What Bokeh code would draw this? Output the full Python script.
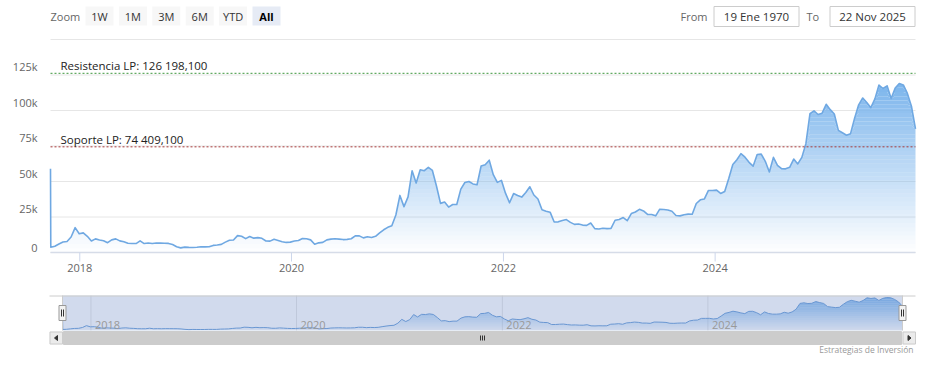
import numpy as np
import pandas as pd
from bokeh.plotting import figure
from bokeh.models import Range1d
from bokeh.core.properties import value
from bokeh.embed import file_html
from bokeh.resources import INLINE

# ---------------- data ----------------
spike_date = "2017-09-22"
spike_value = 59000
series_start = "2017-09-23"
series_step = "14D"

btc_2017 = [3700, 4400, 6000, 7400, 7800, 10900, 17500, 13200]
btc_2018 = [13800, 11400, 8100, 9600, 8800, 8300, 6900, 8900, 9600, 8200, 7600, 6500, 6300,
            6300, 8200, 6300, 6700, 6300, 6700, 6600, 6500, 6400, 5600, 4100, 3250, 3800]
btc_2019 = [3600, 3550, 3650, 4100, 3950, 4000, 5000, 5300, 5700, 7300, 8600, 8800, 11900,
            11400, 9800, 11300, 10100, 10500, 10000, 8100, 8000, 9300, 8500, 7600, 7100, 7300]
btc_2020 = [8100, 8400, 9900, 9700, 8900, 5800, 6800, 7100, 8900, 9400, 9700, 9450, 9100,
            9250, 9700, 11700, 11700, 10300, 11100, 10600, 11400, 13800, 16000, 17700, 18800, 26400]
btc_2021 = [40200, 32300, 39200, 57500, 48900, 58300, 57600, 60000, 57800, 46800, 34600, 35500, 32000,
            33800, 33800, 44600, 49300, 50000, 48300, 47700, 60900, 61800, 65000, 54800, 49400, 50800]
btc_2022 = [41800, 35000, 41500, 40100, 39000, 42200, 46300, 40500, 37700, 30100, 29000, 28400, 21500,
            21600, 22600, 23200, 21200, 19800, 20100, 19300, 19100, 20800, 16800, 16500, 17100, 16800]
btc_2023 = [17000, 22700, 23300, 24600, 22400, 27400, 28500, 30400, 29300, 26800, 26800, 25800, 30500,
            30300, 29900, 29100, 26100, 25800, 26600, 27000, 26900, 34500, 37100, 37700, 43700, 43700]
btc_2024 = [43900, 41600, 43000, 52100, 62000, 65300, 69600, 67100, 63500, 60800, 69000, 69300, 64200,
            56700, 67000, 61400, 59000, 58900, 60000, 65800, 62400, 67000, 76600, 97700, 99800, 97200]
btc_2025 = [98100, 104400, 100600, 97500, 86000, 84300, 82600, 83700, 94600, 104000, 108800, 105600,
            102000, 108200, 117900, 115500, 117400, 108400, 115900, 119000, 118000, 112000, 103000, 87000]
btc_values = btc_2017 + btc_2018 + btc_2019 + btc_2020 + btc_2021 + btc_2022 + btc_2023 + btc_2024 + btc_2025

support_value = 74409.1
resistance_value = 126198.1
support_label = "Soporte LP: 74 409,100"
resistance_label = "Resistencia LP: 126 198,100"

y_ticks = [0, 25000, 50000, 75000, 100000, 125000, 150000]
y_tick_labels = ["0", "25k", "50k", "75k", "100k", "125k", ""]
x_tick_years = [2018, 2020, 2022, 2024]

zoom_title = "Zoom"
zoom_buttons = ["1W", "1M", "3M", "6M", "YTD", "All"]
active_button = "All"
from_title, from_text = "From", "19 Ene 1970"
to_title, to_text = "To", "22 Nov 2025"
credits_text = "Estrategias de Inversión"

# ---------------- setup ----------------
FONT = "Open Sans"
LINE_COLOR = "#6fa8e2"
FILL_COLOR = "#7cb5ec"
M = 0                 # canvas offset on the page (Bokeh's page has no body margin)
W, H = 932, 364       # canvas size


def to_ms(d):
    return pd.Timestamp(d).value / 1e6


series_dates = pd.date_range(series_start, periods=len(btc_values), freq=series_step)
x_ms = np.array([to_ms(spike_date)] + [to_ms(d) for d in series_dates])
y_vals = np.array([spike_value] + btc_values, dtype=float)
year_ms = [to_ms(f"{yr}-01-01") for yr in x_tick_years]
top_val = y_vals.max()
S, E = x_ms[0], x_ms[-1]

# one canvas; the default ranges are page pixels, extra ranges carry the data scales
p = figure(width=W, height=H, output_backend="svg", toolbar_location=None,
           x_range=Range1d(M, M + W), y_range=Range1d(M + H, M),
           min_border=0, x_axis_location=None, y_axis_location=None)
p.grid.visible = False
p.outline_line_color = None

# main plot area (page px)
MX0, MX1 = 50, 915
MY0, PX_PER_25K = 252, 35.5
ppm = (MX1 - MX0) / (E - S)
ppv = PX_PER_25K / 25000
# navigator area (page px)
NX0, NX1 = 62, 902
NTOP, NBASE, NSER_TOP = 295, 330, 297
FR_L, FR_R = 49, 915
SC_TOP, SC_BOT = 331, 344
nppm = (NX1 - NX0) / (E - S)
nppv = (NBASE - NSER_TOP) / top_val

p.extra_x_ranges = {
    "date": Range1d(S - (MX0 - M) / ppm, E + (M + W - MX1) / ppm),
    "navdate": Range1d(S - (NX0 - M) / nppm, E + (M + W - NX1) / nppm),
}
p.extra_y_ranges = {
    "val": Range1d(-(M + H - MY0) / ppv, (MY0 - M) / ppv),
    "navval": Range1d(-(M + H - NBASE) / nppv, (NBASE - M) / nppv),
}


def gradient_area(n_bands, xr, yr):
    for k in range(n_bands):
        lo = top_val * k / n_bands
        hi = top_val * (k + 1) / n_bands
        p.varea(x=x_ms, y1=np.minimum(y_vals, lo), y2=np.minimum(y_vals, hi),
                fill_color=FILL_COLOR, fill_alpha=(k + 0.5) / n_bands,
                x_range_name=xr, y_range_name=yr)


# ---------------- header (range selector) ----------------
btn_left0, btn_step, btn_w, btn_top, btn_bot = 85, 33.4, 28, 6, 25
btn_mid = (btn_top + btn_bot) / 2
p.text(x=[50], y=[btn_mid], text=[zoom_title], text_font=value(FONT),
       text_font_size="11px", text_color="#666666", text_baseline="middle", text_align="left")
lefts = [btn_left0 + i * btn_step for i in range(len(zoom_buttons))]
fills = ["#e6ebf5" if b == active_button else "#f7f7f7" for b in zoom_buttons]
p.quad(left=lefts, right=[l + btn_w for l in lefts], top=btn_top, bottom=btn_bot,
       fill_color=fills, line_color=None)
for b, l in zip(zoom_buttons, lefts):
    p.text(x=[l + btn_w / 2], y=[btn_mid], text=[b], text_font=value(FONT),
           text_font_size="11px", text_color="#000000" if b == active_button else "#333333",
           text_font_style="bold" if b == active_button else "normal",
           text_baseline="middle", text_align="center")

for title, txt, tx, bl, br in [(from_title, from_text, 680, 713, 799), (to_title, to_text, 806, 829, 915)]:
    p.text(x=[tx], y=[btn_mid], text=[title], text_font=value(FONT), text_font_size="11px",
           text_color="#666666", text_baseline="middle", text_align="left")
    p.quad(left=bl + 0.5, right=br - 0.5, top=btn_top, bottom=btn_bot + 1, fill_color="white",
           line_color="#cccccc", line_width=1)
    p.text(x=[(bl + br) / 2], y=[btn_mid], text=[txt], text_font=value(FONT), text_font_size="11.5px",
           text_color="#333333", text_baseline="middle", text_align="center")

# ---------------- main chart ----------------
p.segment(x0=MX0, x1=MX1, y0=y_ticks, y1=y_ticks, y_range_name="val",
          line_color="#e6e6e6", line_width=1)
p.text(x=[MX0 - 13] * (len(y_ticks) - 1), y=y_ticks[:-1], text=y_tick_labels[:-1], y_range_name="val",
       text_font=value(FONT), text_font_size="11px", text_color="#666666",
       text_align="right", text_baseline="bottom", y_offset=-1)

gradient_area(40, "date", "val")
p.line(x_ms, y_vals, line_color=LINE_COLOR, line_width=1.6, line_join="round",
       x_range_name="date", y_range_name="val")

# x axis
p.segment(x0=MX0, x1=MX1, y0=0, y1=0, y_range_name="val", line_color="#d6dce8", line_width=1.5)
p.segment(x0=year_ms, x1=year_ms, y0=MY0, y1=MY0 + 9, x_range_name="date",
          line_color="#ccd6eb", line_width=1)
p.text(x=year_ms, y=[MY0 + 15] * len(year_ms), text=[str(y) for y in x_tick_years], x_range_name="date",
       text_font=value(FONT), text_font_size="11px", text_color="#666666",
       text_align="center", text_baseline="middle")

# plot lines
p.segment(x0=MX0, x1=MX1, y0=resistance_value, y1=resistance_value, y_range_name="val",
          line_color="#3c963c", line_dash="2 2", line_width=1)
p.segment(x0=MX0, x1=MX1, y0=support_value, y1=support_value, y_range_name="val",
          line_color="#a83a3a", line_dash="2 2", line_width=1)
p.text(x=[S, S], y=[resistance_value, support_value], text=[resistance_label, support_label],
       x_range_name="date", y_range_name="val", x_offset=10,
       text_font=value(FONT), text_font_size="11.5px", text_color="#222222",
       text_baseline="bottom", text_align="left")

# ---------------- navigator ----------------
p.segment(x0=year_ms, x1=year_ms, y0=NTOP, y1=NBASE, x_range_name="navdate",
          line_color="#e6e6e6", line_width=1)
gradient_area(16, "navdate", "navval")
p.line(x_ms, y_vals, line_color="#6b9fd9", line_width=1, x_range_name="navdate", y_range_name="navval")
p.quad(left=NX0, right=NX1, top=NTOP, bottom=NBASE,
       fill_color=(102, 133, 194), fill_alpha=0.3, line_color=None)
p.segment(x0=[FR_L, NX0, NX1], x1=[FR_R, NX0, NX1], y0=[NTOP + 0.5, NTOP, NTOP],
          y1=[NTOP + 0.5, NBASE, NBASE], line_color="#cccccc", line_width=1)
p.text(x=year_ms, y=[324] * len(year_ms), text=[str(y) for y in x_tick_years], x_range_name="navdate",
       x_offset=4, text_font=value(FONT), text_font_size="11px", text_color="#999999",
       text_baseline="middle", text_align="left")
for hx in (NX0, NX1):
    p.quad(left=hx - 3.5, right=hx + 3.5, top=305, bottom=320, fill_color="#f2f2f2",
           line_color="#999999", line_width=1)
    p.segment(x0=[hx - 1, hx + 1], x1=[hx - 1, hx + 1], y0=309, y1=316, line_color="#333333",
              line_width=1)

# scrollbar
p.quad(left=FR_L, right=FR_R, top=SC_TOP, bottom=SC_BOT, fill_color="#f2f2f2", line_color=None)
p.quad(left=NX0 + 1, right=NX1 - 1, top=SC_TOP, bottom=SC_BOT, fill_color="#cccccc", line_color="#cccccc")
for bl in (FR_L, NX1):
    p.quad(left=bl + 0.5, right=bl + 13, top=SC_TOP + 0.5, bottom=SC_BOT - 0.5, fill_color="#ebebeb",
           line_color="#cccccc", line_width=1)
ym = (SC_TOP + SC_BOT) / 2
p.patches(xs=[[FR_L + 8, FR_L + 8, FR_L + 5], [NX1 + 5.5, NX1 + 5.5, NX1 + 8.5]],
          ys=[[ym - 2.5, ym + 2.5, ym], [ym - 2.5, ym + 2.5, ym]],
          fill_color="#333333", line_color="#333333")
gx = (NX0 + NX1) / 2
p.segment(x0=[gx - 2, gx, gx + 2], x1=[gx - 2, gx, gx + 2], y0=ym - 2.5, y1=ym + 2.5,
          line_color="#333333", line_width=1)

# credits
p.text(x=[913], y=[349], text=[credits_text], text_font=value(FONT), text_font_size="8.5px",
       text_color="#999999", text_baseline="middle", text_align="right")

open("out.html", "w").write(file_html(p, INLINE))
